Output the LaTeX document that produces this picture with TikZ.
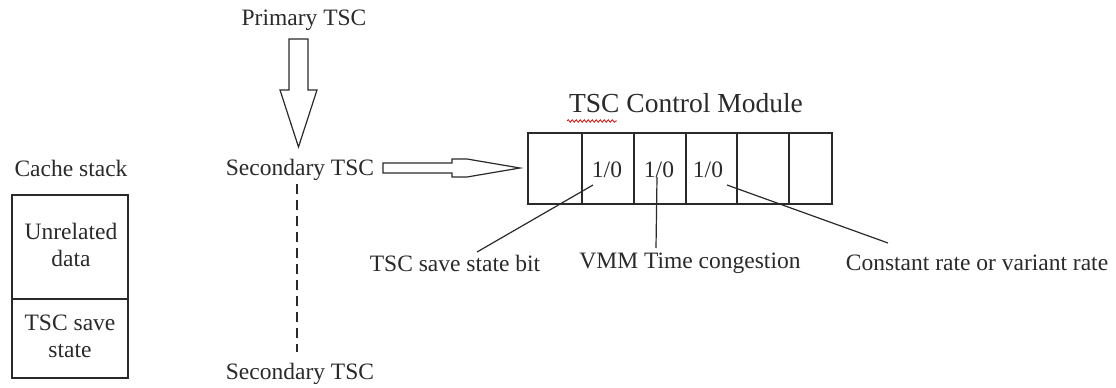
\documentclass[tikz,border=0pt]{standalone}
\usepackage{fontspec}
\setmainfont{Liberation Serif}
\usetikzlibrary{decorations.pathmorphing}
\definecolor{ink}{HTML}{2A2A2A}
\begin{document}
\begin{tikzpicture}[x=1pt,y=-1pt,
  lbl/.style={inner sep=0pt, text=ink, font=\fontsize{23.5}{27}\selectfont},
  ttl/.style={inner sep=0pt, text=ink, font=\fontsize{27.5}{30}\selectfont},
  ln/.style={draw=ink, line width=1.2pt},
  blk/.style={draw=ink, line width=1.2pt, fill=white, line join=miter}]
\useasboundingbox (0,0) rectangle (1116,388);
% Cache stack
\node[lbl] (cs) at (71,168) {Cache stack};
\draw[ln] (12,195) rectangle (128,378);
\draw[ln] (12,299) -- (128,299);
\node[lbl, align=center] (ud) at (71,245) {Unrelated\\data};
\node[lbl, align=center] (ss) at (70,336) {TSC save\\state};
% TSC column
\node[lbl] (p) at (304,20) {Primary TSC};
\node[lbl] (s1) at (300,170) {Secondary TSC};
\node[lbl] (s2) at (300,374) {Secondary TSC};
\draw[blk] (289,39) -- (308,39) -- (308,90) -- (317,90) -- (298.5,147) -- (280,90) -- (289,90) -- cycle;
\draw[ln, dash pattern=on 10pt off 6pt] (s1.south -| 297,0) ++(0,3) coordinate (d1) -- (297,352) coordinate (d2);
% horizontal arrow
\draw[blk] (383,163) -- (452,163) -- (452,159) -- (467,159) -- (520,168) -- (467,177) -- (452,177) -- (452,173) -- (383,173) -- cycle;
% TSC control module
\node[ttl] (tt) at (686,103) {TSC Control Module};
\draw[red!80!black, line width=0.7pt, decorate, decoration={snake, amplitude=1.3pt, segment length=4pt}] (567,121) -- (617,121);
\draw[ln] (528,133) rectangle (832,204);
\foreach \x in {582,634,686,737,789} \draw[ln] (\x,133) -- (\x,204);
\node[lbl] (b1) at (607,170) {1/0};
\node[lbl] (b2) at (659,170) {1/0};
\node[lbl] (b3) at (708,170) {1/0};
% labels
\node[lbl] (l1) at (455,263) {TSC save state bit};
\node[lbl] (l2) at (690,263) {VMM Time congestion};
\node[lbl] (l3) at (977,263) {Constant rate or variant rate};
\coordinate (a1) at (593,185);
\coordinate (e1) at (477,252);
\coordinate (a2) at (657,177);
\coordinate (e2) at (656,248);
\coordinate (a3) at (727,185);
\coordinate (e3) at (888,243);
\draw[ln] (a1) -- (e1);
\draw[ln] (a2) -- (e2);
\draw[ln] (a3) -- (e3);
\end{tikzpicture}
\end{document}
